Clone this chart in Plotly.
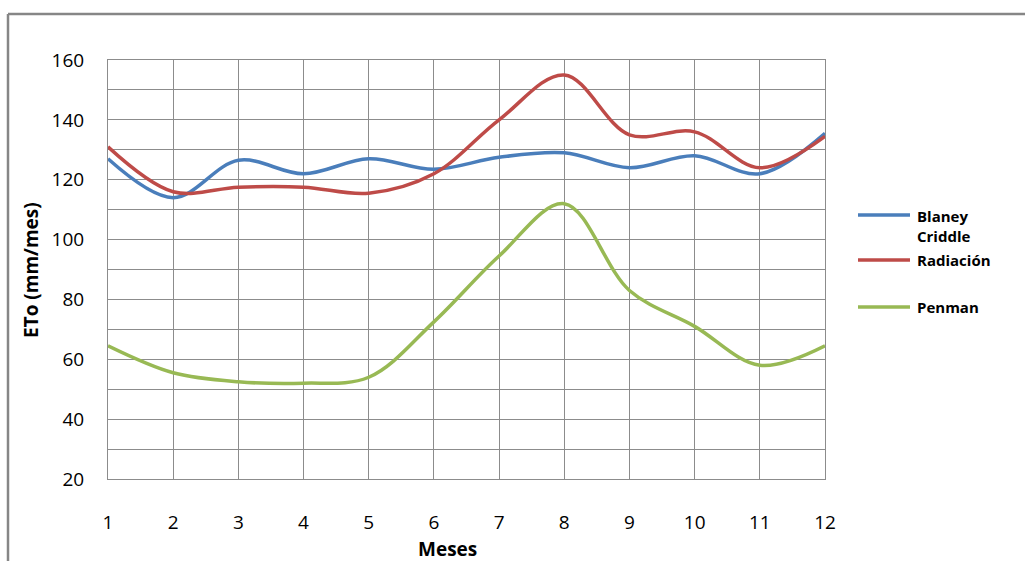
import plotly.graph_objects as go

meses = list(range(1, 13))
blaney = [127, 114, 126.5, 122, 127, 123.5, 127.5, 129, 124, 128, 122, 135.5]
radiacion = [131, 116, 117.5, 117.5, 115.5, 122, 140, 155, 135, 136, 124, 134.5]
penman = [64.5, 55.5, 52.5, 52, 54, 72.5, 94.5, 112, 83, 71, 58, 64.5]

names = ["Blaney Criddle", "Radiación", "Penman"]
colors = ["#4A7EBB", "#BE4B48", "#98B954"]
series = [blaney, radiacion, penman]

font_fam = "Open Sans, Liberation Sans, sans-serif"

fig = go.Figure()
for n, c, s in zip(names, colors, series):
    fig.add_trace(go.Scatter(x=meses, y=s, name=n, mode="lines",
                             line=dict(color=c, width=3.5, shape="spline", smoothing=1),
                             showlegend=False))

L, R, T, B = 108, 200, 60, 82
W, H = 1025, 561
pw, ph = W - L - R, H - T - B

def px(x):
    return (x - L) / pw

def py(y):
    return (H - B - y) / ph

grid = "#8c8c8c"
fig.update_layout(
    width=W, height=H,
    margin=dict(l=L, r=R, t=T, b=B),
    paper_bgcolor="white", plot_bgcolor="white",
    font=dict(family=font_fam, size=19, color="black"),
    xaxis=dict(range=[1, 12], tickmode="array", tickvals=meses,
               ticktext=[str(m) for m in meses],
               showgrid=True, gridcolor=grid, gridwidth=1,
               showline=True, linecolor=grid, linewidth=1, mirror=True,
               ticks="", ticklabelstandoff=26, zeroline=False),
    yaxis=dict(range=[20, 160], tickmode="linear", tick0=20, dtick=20,
               showgrid=True, gridcolor=grid, gridwidth=1,
               minor=dict(dtick=10, showgrid=True, gridcolor=grid, gridwidth=1),
               showline=True, linecolor=grid, linewidth=1, mirror=True,
               ticks="", ticklabelstandoff=19, zeroline=False),
)

# outer chart frame (top and left edges visible)
fig.add_shape(type="line", xref="paper", yref="paper",
              x0=px(8), y0=py(14), x1=px(1030), y1=py(14),
              line=dict(color="#868686", width=2.5))
fig.add_shape(type="line", xref="paper", yref="paper",
              x0=px(8), y0=py(14), x1=px(8), y1=py(570),
              line=dict(color="#868686", width=2.5))

# axis titles
fig.add_annotation(text="<b>Meses</b>", xref="paper", yref="paper",
                   x=px(447), y=py(549), showarrow=False,
                   font=dict(size=19, family=font_fam), xanchor="center", yanchor="middle")
fig.add_annotation(text="<b>ETo (mm/mes)</b>", xref="paper", yref="paper",
                   x=px(31), y=py(270), showarrow=False, textangle=-90,
                   font=dict(size=19, family=font_fam), xanchor="center", yanchor="middle")

# legend
legend_items = [("Blaney<br>Criddle", 215, 226), ("Radiación", 260, 260), ("Penman", 307, 307)]
for (txt, ly, ty), c in zip(legend_items, colors):
    fig.add_shape(type="line", xref="paper", yref="paper",
                  x0=px(858), y0=py(ly), x1=px(910), y1=py(ly),
                  line=dict(color=c, width=3.5))
    fig.add_annotation(text="<b>" + txt + "</b>", xref="paper", yref="paper",
                       x=px(915), y=py(ty), showarrow=False, align="left",
                       xanchor="left", yanchor="middle",
                       font=dict(size=15, family=font_fam))

fig.write_html("out.html")
